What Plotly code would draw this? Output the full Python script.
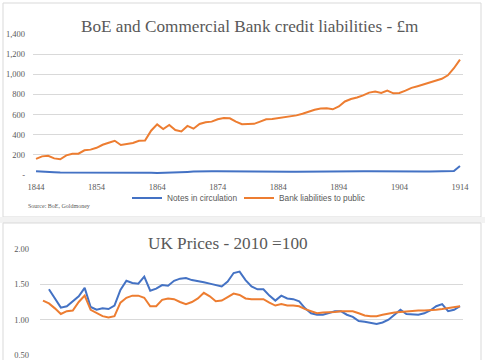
import plotly.graph_objects as go

years = list(range(1844, 1915))

notes_in_circulation = [
    38, 37, 35, 28, 25, 25, 25, 24, 24, 25, 25, 25, 26, 28, 22, 27, 28, 27, 26, 22,
    20, 21, 23, 27, 29, 31, 34, 37, 38, 38, 38, 37, 37, 36, 35, 35, 36, 35, 34, 34,
    33, 33, 32, 33, 34, 34, 34, 33, 33, 34, 35, 36, 37, 38, 38, 37, 36, 35, 36, 37,
    37, 36, 35, 34, 35, 35, 36, 37, 38, 40, 89,
]

bank_liabilities = [
    160, 185, 190, 165, 156, 195, 210, 212, 245, 252, 270, 300, 320, 340, 298, 305,
    318, 340, 342, 440, 503, 457, 497, 447, 432, 487, 460, 507, 523, 530, 553, 565,
    563, 530, 505, 507, 508, 530, 553, 555, 565, 570, 578, 592, 608, 628, 648, 660,
    662, 652, 680, 730, 755, 770, 790, 818, 828, 815, 838, 811, 815, 838, 865, 882,
    900, 920, 935, 955, 990, 1060, 1145,
]

prices_blue = [
    None, 1.43, 1.30, 1.17, 1.19, 1.26, 1.33, 1.45, 1.18, 1.14, 1.16, 1.15, 1.20, 1.42,
    1.55, 1.52, 1.51, 1.61, 1.41, 1.44, 1.49, 1.48, 1.55, 1.58, 1.59, 1.56, 1.55, 1.53,
    1.51, 1.49, 1.47, 1.54, 1.66, 1.68, 1.56, 1.47, 1.43, 1.43, 1.34, 1.27, 1.34, 1.30,
    1.29, 1.26, 1.16, 1.09, 1.07, 1.07, 1.10, 1.12, 1.12, 1.07, 1.04, 0.98, 0.97, 0.95,
    0.94, 0.96, 1.00, 1.07, 1.14, 1.08, 1.07, 1.07, 1.09, 1.13, 1.19, 1.22, 1.12, 1.14,
    1.19,
]

prices_orange = [
    1.27, 1.23, 1.16, 1.08, 1.12, 1.13, 1.25, 1.34, 1.14, 1.09, 1.05, 1.03, 1.05, 1.24,
    1.31, 1.34, 1.34, 1.31, 1.19, 1.19, 1.28, 1.30, 1.29, 1.25, 1.22, 1.25, 1.30, 1.38,
    1.33, 1.26, 1.27, 1.32, 1.37, 1.35, 1.30, 1.29, 1.29, 1.29, 1.24, 1.20, 1.22, 1.20,
    1.20, 1.19, 1.15, 1.12, 1.09, 1.10, 1.10, 1.11, 1.12, 1.12, 1.12, 1.09, 1.06, 1.05,
    1.05, 1.07, 1.09, 1.10, 1.11, 1.12, 1.12, 1.13, 1.13, 1.13, 1.14, 1.15, 1.16, 1.17,
    1.19,
]

top_x_ticks = [1844, 1854, 1864, 1874, 1884, 1894, 1904, 1914]
top_y_ticks = [0, 200, 400, 600, 800, 1000, 1200, 1400]
top_y_labels = ["-", "200", "400", "600", "800", "1,000", "1,200", "1,400"]
bottom_y_ticks = [0.5, 1.0, 1.5, 2.0]
bottom_y_labels = ["0.50", "1.00", "1.50", "2.00"]

BLUE = "#4472C4"
ORANGE = "#ED7D31"
GRID = "#d9d9d9"
TXT = "#595959"
SERIF = "Liberation Serif"

W, H = 485, 360
def px(x):
    return x / W
def py(y):
    return 1 - y / H

fig = go.Figure()

fig.add_trace(go.Scatter(x=years, y=notes_in_circulation, mode="lines",
                         name="Notes in circulation", line=dict(color=BLUE, width=2),
                         xaxis="x", yaxis="y", legend="legend"))
fig.add_trace(go.Scatter(x=years, y=bank_liabilities, mode="lines",
                         name="Bank liabilities to public", line=dict(color=ORANGE, width=2),
                         xaxis="x", yaxis="y", legend="legend2"))
fig.add_trace(go.Scatter(x=years, y=prices_blue, mode="lines", showlegend=False,
                         line=dict(color=BLUE, width=2), xaxis="x2", yaxis="y2"))
fig.add_trace(go.Scatter(x=years, y=prices_orange, mode="lines", showlegend=False,
                         line=dict(color=ORANGE, width=2), xaxis="x2", yaxis="y2"))

tickfont = dict(family=SERIF, size=8.5, color=TXT)
legfont = dict(family="Liberation Sans", size=8.3, color=TXT)

fig.update_layout(
    width=W, height=H, autosize=False,
    margin=dict(l=0, r=0, t=0, b=0),
    paper_bgcolor="white", plot_bgcolor="rgba(0,0,0,0)",
    xaxis=dict(domain=[px(33), px(463)], range=[1843.5, 1914.5], tickvals=top_x_ticks,
               showgrid=False, zeroline=False, showline=False, tickfont=tickfont,
               ticks="", ticklen=0, ticklabelstandoff=5, anchor="y", automargin=False),
    yaxis=dict(domain=[py(175), py(34)], range=[0, 1400], tickvals=top_y_ticks,
               ticktext=top_y_labels, gridcolor=GRID, gridwidth=1, zeroline=False,
               showline=False, tickfont=tickfont, ticks="", ticklen=0,
               ticklabelstandoff=7, anchor="x", automargin=False),
    xaxis2=dict(domain=[px(40), px(463)], range=[1843.5, 1914.5], showticklabels=False,
                showgrid=False, zeroline=False, showline=False, anchor="y2", automargin=False),
    yaxis2=dict(domain=[py(355), py(249)], range=[0.5, 2.0], tickvals=bottom_y_ticks,
                ticktext=bottom_y_labels, gridcolor=GRID, gridwidth=1, zeroline=False,
                showline=False, tickfont=tickfont, ticks="", ticklen=0,
                ticklabelstandoff=10, anchor="x2", automargin=False),
    legend=dict(orientation="h", x=px(127), xanchor="left", y=py(198), yanchor="middle",
                font=legfont, bgcolor="rgba(0,0,0,0)", itemwidth=30),
    legend2=dict(orientation="h", x=px(239), xanchor="left", y=py(198), yanchor="middle",
                 font=legfont, bgcolor="rgba(0,0,0,0)", itemwidth=30),
    showlegend=True,
    shapes=[
        dict(type="rect", xref="paper", yref="paper", x0=px(3), x1=px(481), y0=py(217), y1=py(3),
             line=dict(color=GRID, width=1), fillcolor="rgba(0,0,0,0)", layer="below"),
        dict(type="rect", xref="paper", yref="paper", x0=0, x1=1, y0=py(223), y1=py(217),
             line=dict(width=0), fillcolor="#f2f2f2", layer="below"),
        dict(type="rect", xref="paper", yref="paper", x0=px(3), x1=px(481), y0=py(362), y1=py(223),
             line=dict(color=GRID, width=1), fillcolor="rgba(0,0,0,0)", layer="below"),
    ],
    annotations=[
        dict(text="BoE and Commercial Bank credit liabilities - £m", xref="paper", yref="paper",
             x=px(250), y=py(27), xanchor="center", yanchor="middle", showarrow=False,
             font=dict(family=SERIF, size=17.2, color=TXT)),
        dict(text="UK Prices - 2010 =100", xref="paper", yref="paper",
             x=px(228), y=py(243), xanchor="center", yanchor="middle", showarrow=False,
             font=dict(family=SERIF, size=17.2, color=TXT)),
        dict(text="Source: BoE, Goldmoney", xref="paper", yref="paper",
             x=px(26), y=py(206), xanchor="left", yanchor="middle", showarrow=False,
             font=dict(family=SERIF, size=6, color=TXT)),
    ],
)

fig.write_html("out.html", config={"displayModeBar": False},
               post_script="document.body.style.margin='0';")
